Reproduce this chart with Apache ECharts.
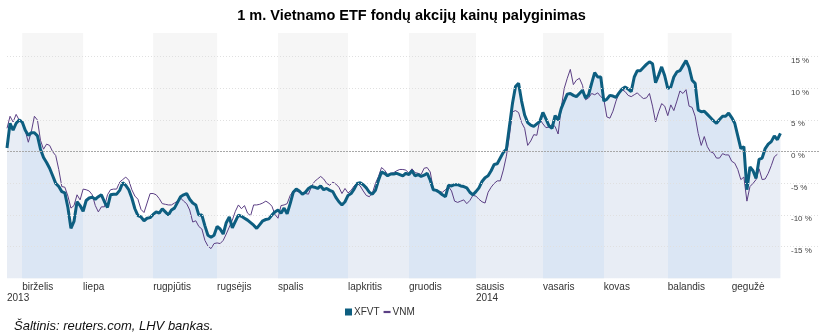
<!DOCTYPE html>
<html>
<head>
<meta charset="utf-8">
<script src="https://cdn.jsdelivr.net/npm/echarts@6/dist/echarts.min.js"></script>
<style>html,body{margin:0;padding:0;background:#fff}#c{width:823px;height:334px}</style>
</head>
<body>
<div id="c"></div>
<script>
// ---- data ----
const titleText = '1 m. Vietnamo ETF fondų akcijų kainų palyginimas';
const sourceText = 'Šaltinis: reuters.com, LHV bankas.';
const monthLabels = ['birželis','liepa','rugpjūtis','rugsėjis','spalis','lapkritis','gruodis','sausis','vasaris','kovas','balandis','gegužė'];
const monthStartIdx = [5,25,48,69,89,112,132,154,176,196,217,238];
const yearLabels = [{idx:0, text:'2013'}, {idx:154, text:'2014'}];
const yTicks = [-15,-10,-5,0,5,10,15];
const totalSlots = 268;

const xfvt = [
0.6,4.5,3.4,4.5,5.0,4.7,3.4,2.6,3.0,3.0,
2.5,0.4,-0.9,-1.7,-2.6,-3.8,-5.0,-5.5,-6.3,-6.5,
-8.8,-12.1,-11.0,-7.9,-8.5,-9.4,-7.7,-7.3,-7.2,-7.5,
-7.1,-6.8,-7.9,-8.8,-6.8,-6.7,-6.7,-6.1,-4.9,-5.3,
-6.0,-7.3,-9.0,-10.1,-10.3,-10.9,-10.5,-10.4,-9.9,-9.5,
-9.7,-9.0,-9.5,-10.0,-9.2,-8.9,-8.0,-7.1,-6.8,-6.6,
-7.5,-8.1,-8.4,-10.0,-10.0,-11.7,-13.2,-13.5,-13.2,-11.8,
-12.2,-13.0,-11.2,-10.3,-12.0,-11.0,-10.0,-10.2,-10.5,-10.8,
-11.2,-11.6,-12.1,-11.5,-10.9,-10.7,-10.6,-10.0,-9.5,-9.2,
-9.7,-8.9,-9.8,-8.2,-6.4,-5.9,-6.2,-6.7,-6.4,-5.8,
-5.5,-5.6,-5.8,-5.4,-6.0,-5.8,-6.1,-6.3,-7.2,-7.9,
-8.4,-7.9,-6.9,-6.6,-5.9,-5.0,-4.9,-5.2,-5.7,-6.4,
-6.7,-6.1,-4.5,-3.2,-3.4,-3.8,-3.5,-3.5,-3.4,-3.6,
-3.8,-3.4,-3.6,-3.0,-3.8,-3.6,-3.9,-3.7,-3.4,-4.5,
-6.0,-6.1,-6.4,-6.8,-7.1,-5.3,-5.4,-5.2,-5.2,-5.4,
-5.5,-5.7,-6.4,-6.8,-6.3,-5.7,-4.7,-4.1,-3.8,-3.0,
-2.0,-1.9,-1.0,-0.1,0.4,4.0,7.6,10.3,10.8,8.0,
5.8,4.6,4.2,4.0,4.4,4.8,6.2,5.2,4.1,3.7,
5.7,5.0,6.8,8.0,9.1,9.2,8.9,8.7,9.2,9.7,
8.5,9.0,10.8,12.5,11.8,11.8,8.0,8.3,8.9,8.8,
8.6,9.3,9.9,10.2,9.9,9.5,11.8,12.8,12.8,13.3,
13.8,14.2,13.9,10.9,12.1,13.4,12.0,10.0,10.2,11.8,
12.6,12.8,13.6,14.4,13.3,11.3,10.8,6.6,6.3,6.4,
5.9,5.4,4.9,4.5,5.1,5.6,5.6,6.1,5.4,4.5,
2.5,0.5,0.8,-6.0,-2.4,-3.0,-4.2,-1.2,-1.0,0.5,
1.2,1.6,2.5,1.9,2.9
];
const vnm = [
3.7,5.6,4.7,5.9,5.0,4.6,3.3,1.5,3.2,5.6,
5.0,1.8,0.4,1.2,1.0,0.0,-0.6,-2.8,-5.5,-5.6,
-7.0,-8.9,-8.5,-6.8,-7.6,-5.9,-6.0,-6.2,-6.8,-8.5,
-9.5,-8.7,-8.7,-6.8,-6.0,-5.9,-5.9,-4.8,-4.4,-4.0,
-4.5,-6.0,-7.0,-7.5,-9.1,-9.6,-8.1,-6.6,-6.6,-6.8,
-7.4,-8.2,-8.3,-8.4,-8.4,-8.1,-7.8,-7.3,-7.8,-8.2,
-9.2,-11.1,-10.9,-11.8,-12.2,-14.0,-14.9,-15.3,-14.5,-14.4,
-14.5,-14.0,-13.0,-11.9,-10.8,-9.4,-8.4,-9.0,-8.5,-9.7,
-10.1,-8.4,-8.4,-8.3,-8.1,-7.8,-8.1,-8.6,-9.9,-10.5,
-8.5,-8.4,-8.2,-6.9,-6.2,-6.2,-6.4,-6.5,-6.6,-6.7,
-5.5,-4.7,-4.3,-3.9,-4.3,-5.0,-5.3,-4.8,-5.1,-5.6,
-6.6,-5.8,-6.5,-6.1,-5.4,-5.0,-5.4,-6.2,-6.9,-7.1,
-6.5,-5.0,-3.9,-2.5,-2.9,-3.6,-3.4,-3.3,-3.0,-2.8,
-2.8,-2.9,-3.4,-2.7,-3.3,-3.4,-3.6,-2.6,-2.5,-3.2,
-5.9,-6.1,-6.3,-6.4,-6.0,-5.5,-6.2,-7.8,-8.0,-7.8,
-7.6,-8.2,-7.7,-6.9,-7.0,-7.5,-7.9,-8.1,-6.4,-5.6,
-5.0,-4.6,-4.6,-2.9,-0.7,2.5,6.3,6.5,6.2,4.6,
3.7,1.0,1.7,2.7,2.6,5.1,4.4,3.8,3.9,4.3,
4.0,2.8,6.9,10.0,11.6,13.0,10.6,11.3,11.6,10.5,
8.2,8.5,9.2,9.0,9.3,8.7,8.3,5.5,5.3,6.4,
8.0,9.3,9.8,9.5,8.9,8.7,9.0,9.3,8.8,8.4,
8.5,9.2,7.2,4.7,6.3,7.6,7.2,5.7,7.4,6.5,
8.0,9.6,9.2,9.8,7.2,7.0,5.6,2.9,1.0,2.4,
0.8,0.0,-0.2,-1.0,-1.0,-0.3,-0.5,-0.5,-1.5,-1.8,
-2.8,-4.4,-4.0,-7.8,-5.5,-5.0,-4.4,-2.7,-4.4,-4.3,
-3.4,-2.2,-0.8,-0.4,null
];

// ---- build ----
const categories = Array.from({length: totalSlots}, (_, i) => String(i));
const labelMap = {};
monthStartIdx.forEach((idx, k) => { labelMap[idx] = monthLabels[k]; });
yearLabels.forEach(y => { labelMap[y.idx] = (labelMap[y.idx] || '') + '\n' + y.text; });

const DARK = '#dbe6f4', LIGHT = '#e8edf5', GRAY = '#f6f6f6';
const bounds = [0].concat(monthStartIdx, [totalSlots]);
const pieces = [];
for (let k = 0; k < bounds.length - 1; k++) {
  pieces.push({gte: bounds[k], lt: bounds[k+1], color: (k % 2 === 1) ? DARK : LIGHT});
}
const bandData = [];
for (let k = 0; k < monthStartIdx.length; k += 2) {
  bandData.push([{xAxis: monthStartIdx[k]}, {xAxis: monthStartIdx[k+1] !== undefined ? monthStartIdx[k+1] : xfvt.length - 1}]);
}
const gridLines = yTicks.map(v => ({
  yAxis: v,
  lineStyle: v === 0 ? {color: '#a8a8a8', type: [2, 1], width: 1} : {color: '#e0e0e0', type: [1, 2], width: 1}
}));

const chart = echarts.init(document.getElementById('c'), null, {renderer: 'canvas'});
chart.setOption({
  animation: false,
  textStyle: {fontFamily: 'Liberation Sans, Arial, sans-serif'},
  title: [
    {text: titleText, left: 'center', top: 3, textStyle: {fontSize: 14.5, fontWeight: 'bold', color: '#000'}},
    {text: sourceText, left: 9, top: 315, textStyle: {fontSize: 13, fontWeight: 'normal', fontStyle: 'italic', color: '#111'}}
  ],
  legend: {
    left: 340, top: 302, itemWidth: 7, itemHeight: 7, itemGap: 4,
    textStyle: {fontSize: 10, color: '#333', padding: [0, 0, 0, -3]},
    data: [{name: 'XFVT', icon: 'rect'}, {name: 'VNM', icon: 'path://M0,0h8v2.5h-8z'}]
  },
  visualMap: {show: false, type: 'piecewise', dimension: 0, seriesIndex: 0, pieces: pieces},
  grid: {left: 7, right: 3, top: 33, bottom: 55.6},
  xAxis: {
    type: 'category', data: categories, boundaryGap: false,
    axisLine: {show: false}, axisTick: {show: false}, splitLine: {show: false},
    axisLabel: {
      interval: 0, align: 'left', margin: 3, fontSize: 10, lineHeight: 11, color: '#333',
      formatter: (v, i) => labelMap[i] || ''
    }
  },
  yAxis: {
    type: 'value', position: 'right', min: -20, max: 18.75, interval: 5,
    axisLine: {show: false}, axisTick: {show: false}, splitLine: {show: false},
    axisLabel: {
      inside: true, margin: 29, align: 'left', verticalAlign: 'top', fontSize: 8, color: '#444',
      formatter: v => (yTicks.indexOf(v) >= 0 ? v + ' %' : '')
    }
  },
  series: [
    {
      name: 'area', type: 'line', data: xfvt, symbol: 'none', silent: true, z: 2,
      lineStyle: {width: 0}, areaStyle: {opacity: 1, origin: 'start'},
      markArea: {silent: true, itemStyle: {color: GRAY}, data: bandData},
      markLine: {silent: true, symbol: 'none', label: {show: false}, data: gridLines}
    },
    {
      name: 'VNM', type: 'line', data: vnm, symbol: 'none', z: 3,
      lineStyle: {width: 1, color: '#5b3f84'}, itemStyle: {color: '#5b3f84'}
    },
    {
      name: 'XFVT', type: 'line', data: xfvt, symbol: 'none', z: 4,
      lineStyle: {width: 3, color: '#0d5e80'}, itemStyle: {color: '#0d5e80'}
    }
  ]
});
</script>
</body>
</html>
